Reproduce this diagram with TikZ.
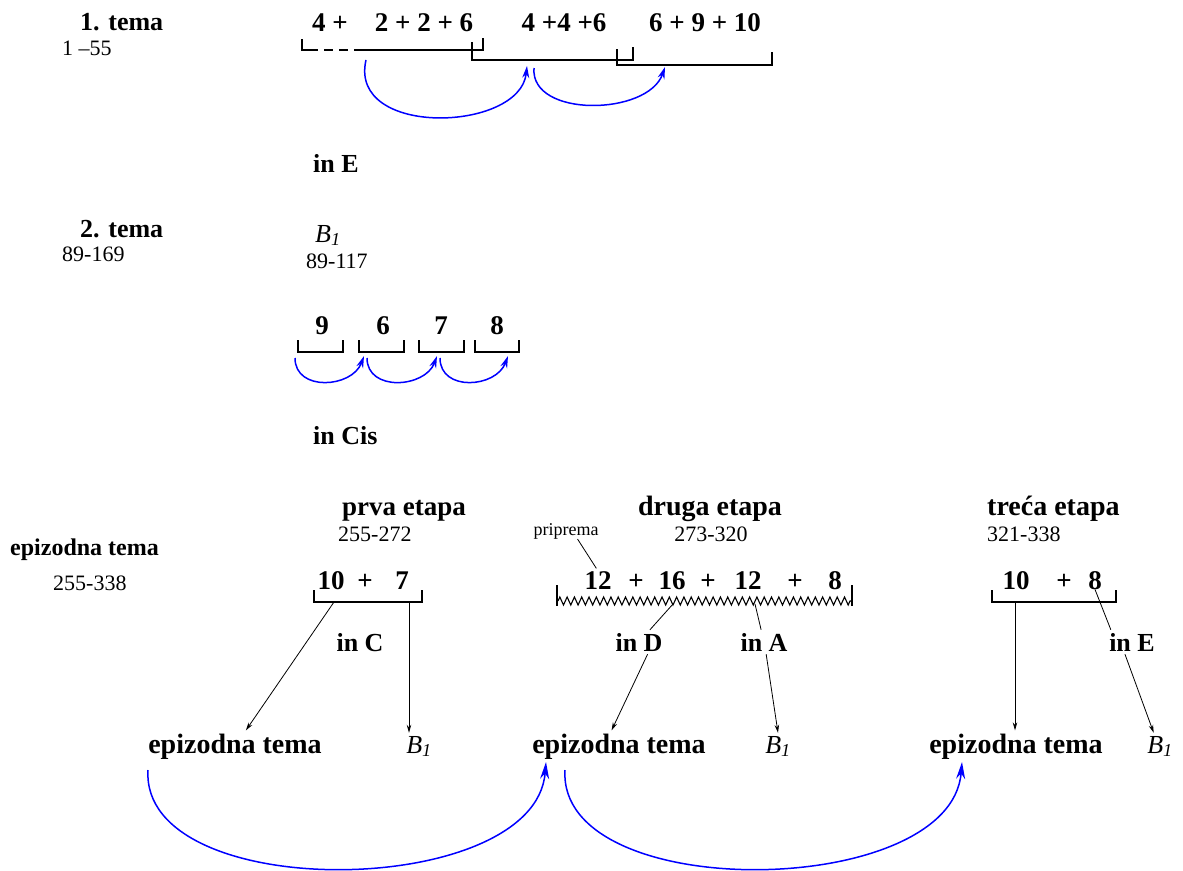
\documentclass[tikz,border=0pt]{standalone}
\usepackage{fontspec}
\setmainfont{Liberation Serif}
\usetikzlibrary{decorations.pathmorphing,arrows.meta}

\tikzset{
  naslov/.style={font=\bfseries\fontsize{26}{30}\selectfont, inner sep=0pt, anchor=base west},
  raspon/.style={font=\fontsize{22}{26}\selectfont, inner sep=0pt, anchor=base west},
  broj/.style={font=\bfseries\fontsize{27}{30}\selectfont, inner sep=0pt, anchor=base},
  oznaka/.style={font=\bfseries\fontsize{26}{30}\selectfont, inner sep=3pt, anchor=base},
  bnota/.style={font=\fontsize{26}{30}\selectfont, inner sep=3pt, anchor=base},
  zagrada/.style={line width=1.6pt},
  luk/.style={blue, line width=1.5pt, -{Stealth[length=17pt,width=9pt]}},
  mali luk/.style={blue, line width=1.5pt, -{Stealth[length=12pt,width=7pt]}},
  veza/.style={line width=0.8pt, -{Stealth[length=8pt,width=4.5pt]}},
  crta/.style={line width=0.8pt},
}
\newcommand{\Bjedan}{\textit{B}\textsubscript{\textit{1}}}

\begin{document}
\begin{tikzpicture}[x=1pt,y=-1pt]
    \useasboundingbox (0,0) rectangle (1183,870);

    % 1. tema
    \node[naslov] (t1) at (80,30) {1. tema};
    \node[raspon] (t1r) at (62,55) {1 –55};
    \node[broj] (a1) at (330,31) {4 +};
    \node[broj] (a2) at (424,31) {2 + 2 + 6};
    \node[broj] (a3) at (564,31) {4 +4 +6};
    \node[broj] (a4) at (705,31) {6 + 9 + 10};
    \draw[zagrada] (302,39) -- (302,50) -- (309,50);
    \draw[zagrada, dash pattern=on 9pt off 6pt] (309,50) -- (355,50);
    \draw[zagrada] (355,50) -- (483,50) -- (483,38);
    \draw[zagrada] (472,42) -- (472,60) -- (633,60) -- (633,47);
    \draw[zagrada] (617,49) -- (617,65) -- (772,65) -- (772,52);
    \coordinate (z1) at (366,60);
    \coordinate (z2) at (527,66);
    \coordinate (z3) at (534,68);
    \coordinate (z4) at (665,67);
    \draw[mali luk] (z1) .. controls (348,138) and (520,132) .. (z2);
    \draw[mali luk] (z3) .. controls (530,118) and (648,116) .. (z4);
    \node[naslov] (ue1) at (313,172) {in E};

    % 2. tema
    \node[naslov] (t2) at (80,237) {2. tema};
    \node[raspon] (t2r) at (62,261) {89-169};
    \node[raspon, font=\fontsize{26}{30}\selectfont] (b0) at (315,242) {\Bjedan};
    \node[raspon] (b0r) at (306,268) {89-117};
    \foreach \x/\n in {322/9,383/6,441/7,497/8}
        \node[broj] (n\n) at (\x,334) {\n};
    \foreach \a/\b in {298/343,359/404,419/464,475/519}
        \draw[zagrada] (\a,340) -- (\a,352) -- (\b,352) -- (\b,340);
    \foreach \a/\b [count=\i] in {295/364,367/437,440/508} {
        \coordinate (lp\i) at (\a,358);
        \coordinate (lk\i) at (\b,356);
        \draw[mali luk] (lp\i) .. controls +(0,34) and +(-12,32) .. (lk\i);
    }
    \node[naslov] (uc1) at (313,444) {in Cis};

    % epizodna tema
    \node[naslov, font=\bfseries\fontsize{24}{28}\selectfont] (et) at (10,555) {epizodna tema};
    \node[raspon] (etr) at (53,590) {255-338};

    % prva etapa
    \node[naslov, anchor=base, font=\bfseries\fontsize{27}{30}\selectfont] (e1) at (404,515) {prva etapa};
    \node[raspon] (e1r) at (338,541) {255-272};
    \node[broj] (p10) at (331,589) {10};
    \node[broj] (pp) at (365,589) {+};
    \node[broj] (p7) at (402,589) {7};
    \draw[zagrada] (314,590) -- (314,602) -- (422,602) -- (422,590);
    \coordinate (k1) at (334,602);
    \coordinate (k2) at (409,602);
    \node[oznaka] (uc) at (360,651) {in C};
    \node[oznaka, font=\bfseries\fontsize{28}{30}\selectfont] (ep1) at (235,753) {epizodna tema};
    \node[bnota] (b1) at (419,753) {\Bjedan};
    \draw[veza] (k1) -- (ep1);
    \draw[veza] (k2) -- (k2 |- b1.north);

    % druga etapa
    \node[naslov, anchor=base, font=\bfseries\fontsize{28}{30}\selectfont] (e2) at (710,515) {druga etapa};
    \node[raspon, anchor=base] (e2r) at (711,541) {273-320};
    \node[font=\fontsize{18}{20}\selectfont, inner sep=0pt, anchor=base] (pr) at (566,535) {priprema};
    \node[broj] (d1) at (598,589) {12};
    \node[broj] (d2) at (636,589) {+};
    \node[broj] (d3) at (672,589) {16};
    \node[broj] (d4) at (708,589) {+};
    \node[broj] (d5) at (748,589) {12};
    \node[broj] (d6) at (795,589) {+};
    \node[broj] (d7) at (835,589) {8};
    \draw[line width=1.1pt, decorate, decoration={zigzag, segment length=7.3pt, amplitude=4pt}] (558,601) -- (852,601);
    \draw[line width=1.3pt] (557,585) -- (557,606);
    \draw[line width=1.3pt] (852,585) -- (852,606);
    \draw[crta, shorten >=3pt] (pr.-35) -- (d1.north);
    \coordinate (k3) at (673,604);
    \coordinate (k4) at (755,604);
    \node[oznaka] (ud) at (639,651) {in D};
    \node[oznaka] (ua) at (764,651) {in A};
    \node[oznaka, font=\bfseries\fontsize{28}{30}\selectfont] (ep2) at (619,753) {epizodna tema};
    \node[bnota] (b2) at (778,753) {\Bjedan};
    \draw[crta] (k3) -- (ud);
    \draw[veza] (ud.-55) -- (ep2.115);
    \draw[crta] (k4) -- (ua);
    \draw[veza] (ua.-80) -- (b2.north);

    % treca etapa
    \node[naslov, font=\bfseries\fontsize{28}{30}\selectfont] (e3) at (987,515) {treća etapa};
    \node[raspon] (e3r) at (987,541) {321-338};
    \node[broj] (c10) at (1016,589) {10};
    \node[broj] (cp) at (1064,589) {+};
    \node[broj] (c8) at (1095,589) {8};
    \draw[zagrada] (992,590) -- (992,602) -- (1116,602) -- (1116,590);
    \coordinate (k5) at (1015,602);
    \node[oznaka] (ue3) at (1132,651) {in E};
    \node[oznaka, font=\bfseries\fontsize{28}{30}\selectfont] (ep3) at (1016,753) {epizodna tema};
    \node[bnota] (b3) at (1160,753) {\Bjedan};
    \draw[veza] (k5) -- (k5 |- ep3.north);
    \draw[crta] (c8.south) -- (ue3.150);
    \draw[veza] (ue3.-120) -- (b3.115);

    % luk izmedju etapa
    \coordinate (q1) at (148,770);
    \coordinate (q2) at (546,762);
    \coordinate (q3) at (565,770);
    \coordinate (q4) at (962,762);
    \draw[luk] (q1) .. controls (140,905) and (535,900) .. (q2);
    \draw[luk] (q3) .. controls (557,905) and (951,900) .. (q4);

\end{tikzpicture}
\end{document}
